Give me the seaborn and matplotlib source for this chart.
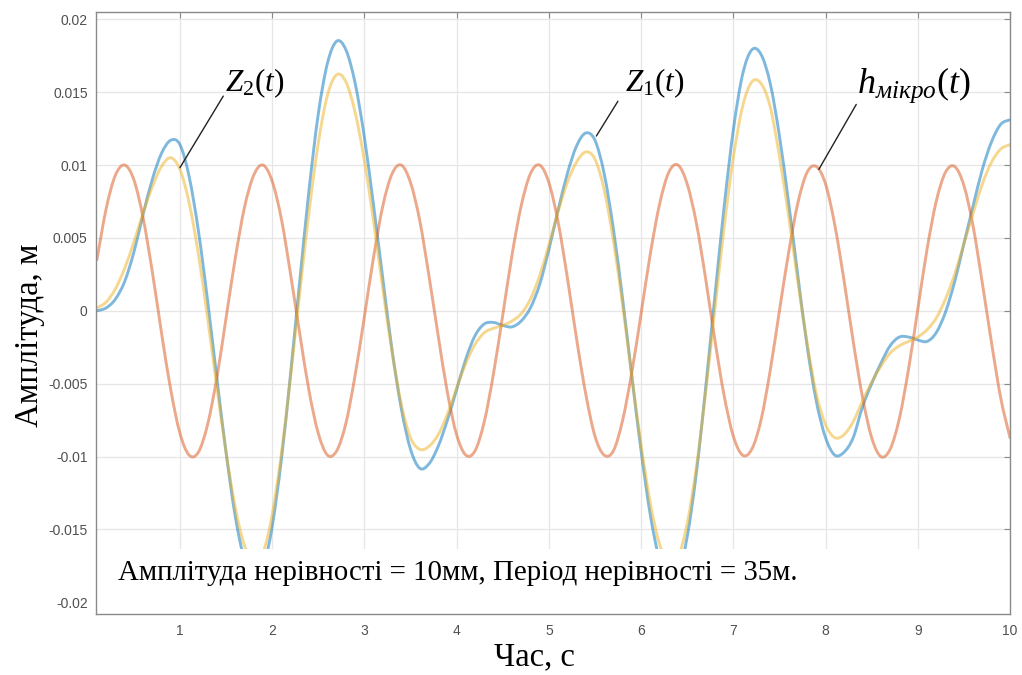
import numpy as np
import pandas as pd
import matplotlib
matplotlib.use("Agg")
import matplotlib.pyplot as plt
import matplotlib.transforms as mtransforms
from matplotlib.patches import Rectangle, PathPatch
from matplotlib.path import Path
import seaborn as sns

# ---- data: vertical displacement over time (sampled every 0.1 s) ----
time_s = np.round(np.linspace(0.1, 10.0, 100), 1)

z1_m = [
    0.0000, 0.0002, 0.0008, 0.0020, 0.0040, 0.0066, 0.0090, 0.0108, 0.0117, 0.0114,
    0.0092, 0.0055, 0.0007, -0.0046, -0.0097, -0.0141, -0.0171, -0.0184, -0.0177, -0.0148,
    -0.0102, -0.0043, 0.0021, 0.0083, 0.0135, 0.0170, 0.0185, 0.0179, 0.0156, 0.0119,
    0.0072, 0.0022, -0.0027, -0.0067, -0.0095, -0.0108, -0.0105, -0.0093, -0.0075, -0.0054,
    -0.0033, -0.0017, -0.0009, -0.0008, -0.0010, -0.0011, -0.0007, 0.0002, 0.0018, 0.0042,
    0.0069, 0.0094, 0.0113, 0.0122, 0.0117, 0.0094, 0.0056, 0.0008, -0.0045, -0.0096,
    -0.0140, -0.0171, -0.0185, -0.0181, -0.0155, -0.0111, -0.0053, 0.0010, 0.0071, 0.0124,
    0.0162, 0.0179, 0.0176, 0.0156, 0.0120, 0.0074, 0.0024, -0.0024, -0.0062, -0.0087,
    -0.0099, -0.0097, -0.0087, -0.0066, -0.0050, -0.0036, -0.0024, -0.0018, -0.0018, -0.0020,
    -0.0021, -0.0015, -0.0001, 0.0020, 0.0046, 0.0072, 0.0097, 0.0116, 0.0128, 0.0131,
]

z2_m = [
    0.0002, 0.0006, 0.0015, 0.0029, 0.0047, 0.0067, 0.0085, 0.0099, 0.0105, 0.0097,
    0.0074, 0.0039, -0.0005, -0.0052, -0.0097, -0.0135, -0.0161, -0.0172, -0.0166, -0.0140,
    -0.0098, -0.0045, 0.0013, 0.0068, 0.0115, 0.0148, 0.0162, 0.0157, 0.0136, 0.0103,
    0.0061, 0.0015, -0.0028, -0.0064, -0.0087, -0.0095, -0.0093, -0.0085, -0.0071, -0.0053,
    -0.0036, -0.0023, -0.0015, -0.0012, -0.0010, -0.0007, -0.0002, 0.0008, 0.0024, 0.0045,
    0.0068, 0.0088, 0.0102, 0.0109, 0.0104, 0.0083, 0.0048, 0.0004, -0.0045, -0.0092,
    -0.0132, -0.0160, -0.0173, -0.0169, -0.0146, -0.0107, -0.0056, 0.0001, 0.0057, 0.0105,
    0.0140, 0.0157, 0.0156, 0.0140, 0.0106, 0.0065, 0.0020, -0.0022, -0.0057, -0.0078,
    -0.0087, -0.0085, -0.0076, -0.0062, -0.0049, -0.0038, -0.0029, -0.0024, -0.0021, -0.0018,
    -0.0013, -0.0005, 0.0008, 0.0025, 0.0046, 0.0067, 0.0087, 0.0102, 0.0111, 0.0114,
]

h_micro_m = [
    0.0035, 0.0070, 0.0093, 0.0100, 0.0090, 0.0064, 0.0027, -0.0015, -0.0054, -0.0084,
    -0.0099, -0.0097, -0.0078, -0.0046, -0.0005, 0.0036, 0.0071, 0.0093, 0.0100, 0.0089,
    0.0063, 0.0025, -0.0016, -0.0055, -0.0084, -0.0099, -0.0096, -0.0077, -0.0044, -0.0004,
    0.0037, 0.0072, 0.0094, 0.0100, 0.0088, 0.0062, 0.0024, -0.0017, -0.0056, -0.0085,
    -0.0099, -0.0096, -0.0076, -0.0043, -0.0003, 0.0038, 0.0072, 0.0094, 0.0100, 0.0088,
    0.0061, 0.0023, -0.0019, -0.0057, -0.0086, -0.0099, -0.0096, -0.0075, -0.0042, -0.0002,
    0.0039, 0.0073, 0.0095, 0.0100, 0.0087, 0.0060, 0.0022, -0.0020, -0.0058, -0.0086,
    -0.0099, -0.0095, -0.0075, -0.0041, -0.0000, 0.0040, 0.0074, 0.0095, 0.0099, 0.0087,
    0.0059, 0.0021, -0.0021, -0.0059, -0.0087, -0.0100, -0.0095, -0.0074, -0.0040, 0.0001,
    0.0042, 0.0075, 0.0095, 0.0099, 0.0086, 0.0058, 0.0019, -0.0022, -0.0060, -0.0087,
]

x_ticks = [1, 2, 3, 4, 5, 6, 7, 8, 9, 10]
x_tick_labels = ["1", "2", "3", "4", "5", "6", "7", "8", "9", "10"]
y_ticks = [-0.02, -0.015, -0.01, -0.005, 0.0, 0.005, 0.01, 0.015, 0.02]
y_tick_labels = ["-0.02", "-0.015", "-0.01", "-0.005", "0", "0.005", "0.01", "0.015", "0.02"]

series_order = ["Z1", "h", "Z2"]
series_colors = {"Z1": "#0072BD", "h": "#D95319", "Z2": "#EDB120"}

note_text = "Амплітуда нерівності = 10мм, Період нерівності = 35м."


def smooth_path(x, y):
    """Catmull-Rom style cubic Bezier path through the given points."""
    pts = np.column_stack([x, y])
    ext = np.vstack([pts[0], pts, pts[-1]])
    verts = [tuple(pts[0])]
    codes = [Path.MOVETO]
    for i in range(1, len(ext) - 2):
        p0, p1, p2, p3 = ext[i - 1], ext[i], ext[i + 1], ext[i + 2]
        c1 = p1 + (p2 - p0) / 6.0
        c2 = p2 - (p3 - p1) / 6.0
        verts += [tuple(c1), tuple(c2), tuple(p2)]
        codes += [Path.CURVE4] * 3
    return Path(verts, codes)


# ---- styling ----
sns.set_theme(style="white")
plt.rcParams["font.family"] = ["Liberation Serif", "DejaVu Serif"]
plt.rcParams["mathtext.fontset"] = "custom"
plt.rcParams["mathtext.rm"] = "Liberation Serif"
plt.rcParams["mathtext.it"] = "Liberation Serif:italic"
plt.rcParams["mathtext.bf"] = "Liberation Serif:bold"

W, H = 1022, 675
fig = plt.figure(figsize=(W / 100, H / 100), dpi=100)
fig.patch.set_facecolor("white")
ax = fig.add_axes([96 / W, 1 - 614 / H, (1010 - 96) / W, (614 - 12) / H])

df = pd.DataFrame({"t": time_s, "Z1": z1_m, "Z2": z2_m, "h": h_micro_m})
long_df = df.melt(id_vars="t", var_name="series", value_name="value")

sns.lineplot(
    data=long_df, x="t", y="value", hue="series", hue_order=series_order,
    palette=series_colors, linewidth=2.1, alpha=0.5, estimator=None,
    sort=False, legend=False, ax=ax, zorder=2,
)

# render each seaborn line as a smooth curve through its samples
for line in list(ax.lines):
    xd, yd = line.get_xdata(), line.get_ydata()
    patch = PathPatch(smooth_path(np.asarray(xd, float), np.asarray(yd, float)),
                      facecolor="none", edgecolor=line.get_color(),
                      lw=line.get_linewidth(), alpha=line.get_alpha(),
                      capstyle="round", joinstyle="round", zorder=2)
    ax.add_patch(patch)
    line.set_visible(False)

ax.set_xlim(0.09, 10.0)
ax.set_ylim(-0.0208, 0.0205)

# light grid, drawn under the curves
grid_kw = dict(color="#e6e6e6", lw=0.9, zorder=0.5)
for xv in x_ticks:
    ax.axvline(xv, **grid_kw)
for yv in y_ticks:
    ax.axhline(yv, **grid_kw)

ax.set_xticks(x_ticks)
ax.set_xticklabels(x_tick_labels)
ax.set_yticks(y_ticks)
ax.set_yticklabels(y_tick_labels)
ax.tick_params(axis="both", direction="in", length=4, width=0.8, color="#8a8a8a",
               labelcolor="#505050", labelsize=10, top=True, right=True)
ax.tick_params(axis="x", pad=7)
ax.tick_params(axis="y", pad=6)
for lab in ax.get_xticklabels() + ax.get_yticklabels():
    lab.set_fontfamily(["Liberation Sans", "DejaVu Sans"])
for sp in ax.spines.values():
    sp.set_color("#8a8a8a")
    sp.set_linewidth(1.0)
ax.set_xlabel("")
ax.set_ylabel("")

# white panel behind the note at the bottom of the axes
blend = mtransforms.blended_transform_factory(ax.transAxes, ax.transData)
ax.add_patch(Rectangle((0.0, -0.0208), 1.0, -0.01635 + 0.0208, transform=blend,
                       facecolor="white", edgecolor="none", zorder=2.2))
ax.text(0.33, -0.0185, note_text, fontsize=20.8, color="black",
        ha="left", va="baseline", zorder=4,
        fontfamily=["Liberation Serif", "DejaVu Serif"])

# curve labels with leader lines
lab_kw = dict(color="black", ha="left", va="baseline", zorder=4)
ax.text(1.49, 0.01507, r"$Z_2(t)$", fontsize=22.5, **lab_kw)
ax.text(5.822, 0.01507, r"$Z_1(t)$", fontsize=22.5, **lab_kw)
ax.text(8.346, 0.01495, r"$h_{мікро}(t)$", fontsize=26, **lab_kw)
line_kw = dict(arrowstyle="-", color="#222222", lw=1.0, shrinkA=0, shrinkB=0)
ax.annotate("", xy=(1.000, 0.00982), xytext=(1.470, 0.01473), arrowprops=line_kw, zorder=4)
ax.annotate("", xy=(5.515, 0.01199), xytext=(5.749, 0.01438), arrowprops=line_kw, zorder=4)
ax.annotate("", xy=(7.927, 0.00970), xytext=(8.333, 0.01416), arrowprops=line_kw, zorder=4)

# axis titles
fig.text(534 / W, 1 - 665 / H, "Час, с", fontsize=23.5, ha="center", va="baseline",
         color="black")
fig.text(38 / W, 1 - 335 / H, "Амплітуда, м", fontsize=23.5, rotation=90,
         rotation_mode="anchor", ha="center", va="baseline", color="black")

fig.savefig("out.png", dpi=100, facecolor="white")
